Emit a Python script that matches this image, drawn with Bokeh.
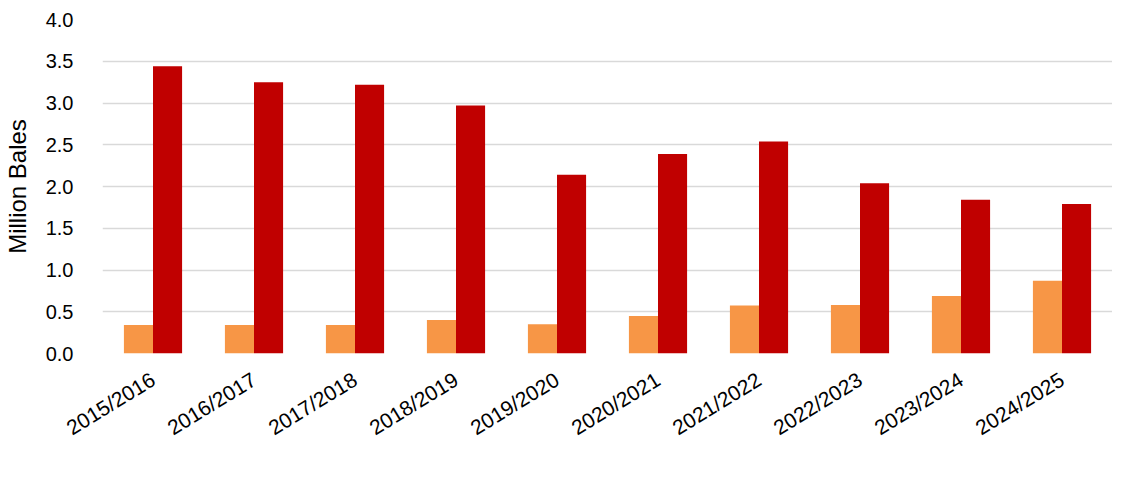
from bokeh.plotting import figure
from bokeh.models import (ColumnDataSource, Legend, LegendItem, SingleIntervalTicker,
                          NumeralTickFormatter)
from bokeh.transform import dodge
from bokeh.embed import file_html
from bokeh.resources import INLINE

seasons = ["2015/2016", "2016/2017", "2017/2018", "2018/2019", "2019/2020",
           "2020/2021", "2021/2022", "2022/2023", "2023/2024", "2024/2025"]
central_america = [0.34, 0.34, 0.34, 0.40, 0.35, 0.45, 0.575, 0.58, 0.69, 0.87]
united_states = [3.44, 3.25, 3.22, 2.97, 2.14, 2.39, 2.54, 2.04, 1.84, 1.79]

src = ColumnDataSource(dict(season=seasons, ca=central_america, us=united_states))

FONT = "Liberation Sans"

p = figure(x_range=seasons, y_range=(0, 4.0),
           output_backend="svg", toolbar_location=None,
           min_border_left=92, min_border_right=0, min_border_top=19, min_border_bottom=0)
p.frame_width = 1010
p.frame_height = 334

bw = 0.288
r1 = p.vbar(x=dodge("season", -bw / 2, range=p.x_range), top="ca", width=bw, source=src,
            fill_color="#F79646", line_color=None)
r2 = p.vbar(x=dodge("season", bw / 2, range=p.x_range), top="us", width=bw, source=src,
            fill_color="#C00000", line_color=None)

p.outline_line_color = None
p.xgrid.grid_line_color = None
p.ygrid.grid_line_color = "#D9D9D9"
p.ygrid.grid_line_width = 1.5
p.yaxis.ticker = SingleIntervalTicker(interval=0.5)
p.yaxis.formatter = NumeralTickFormatter(format="0.0")

for ax in (p.xaxis, p.yaxis):
    ax.axis_line_color = None
    ax.major_tick_line_color = None
    ax.minor_tick_line_color = None
    ax.major_label_text_font = FONT
    ax.major_label_text_color = "#000000"

p.yaxis.major_label_text_font_size = "20px"
p.xaxis.major_label_text_font_size = "21px"

p.yaxis.major_label_standoff = 23
p.yaxis.axis_label = "Million Bales"
p.yaxis.axis_label_text_font = FONT
p.yaxis.axis_label_text_font_size = "24px"
p.yaxis.axis_label_text_font_style = "normal"
p.yaxis.axis_label_text_color = "#000000"
p.yaxis.axis_label_standoff = 12

p.xaxis.major_label_orientation = 0.55
p.xaxis.major_label_standoff = 18

legend = Legend(items=[LegendItem(label="Central America", renderers=[r1]),
                       LegendItem(label="United States", renderers=[r2])],
                orientation="horizontal", location="top_center",
                label_text_font=FONT, label_text_font_size="23px", label_text_color="#000000",
                glyph_width=15, glyph_height=15, spacing=66, label_standoff=7,
                label_width=209,
                border_line_color=None, background_fill_alpha=0, padding=0, margin=0)
p.add_layout(legend, "below")

open("out.html", "w").write(file_html(p, INLINE))
